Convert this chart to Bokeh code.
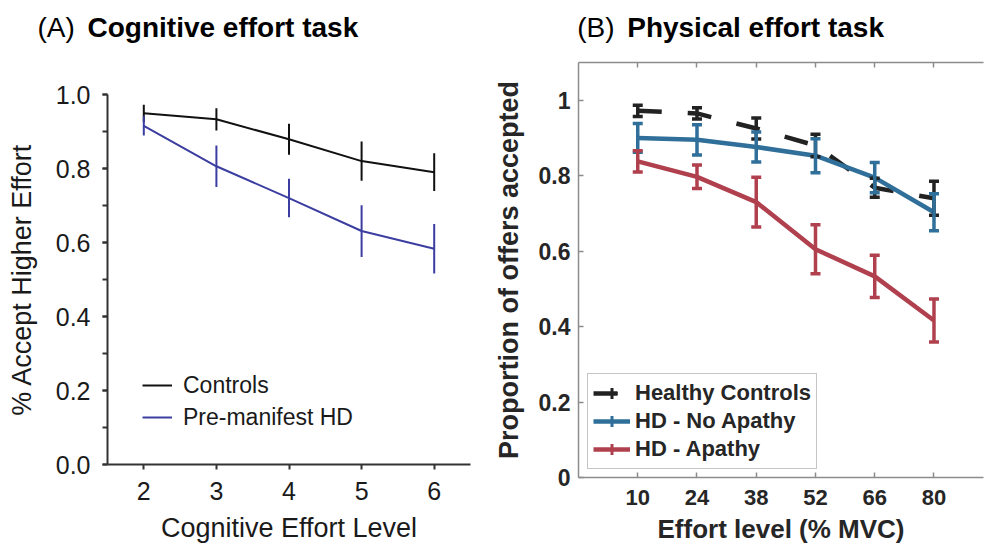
from bokeh.plotting import figure
from bokeh.layouts import row, column
from bokeh.models import (ColumnDataSource, Whisker, TeeHead, Legend, LegendItem,
                          FixedTicker, SingleIntervalTicker, LinearAxis, Range1d, PrintfTickFormatter)
from bokeh.core.properties import value
from bokeh.embed import file_html
from bokeh.resources import INLINE

# ---------------- data: panel A (cognitive effort) ----------------
cog_levels = [2, 3, 4, 5, 6]
cog_controls = [0.949, 0.933, 0.879, 0.820, 0.790]
cog_controls_err = [0.023, 0.030, 0.042, 0.053, 0.051]
cog_hd = [0.915, 0.806, 0.720, 0.631, 0.583]
cog_hd_err = [0.026, 0.056, 0.052, 0.070, 0.067]

# ---------------- data: panel B (physical effort) ----------------
phys_levels = [10, 24, 38, 52, 66, 80]
phys_controls = [0.972, 0.965, 0.925, 0.880, 0.768, 0.740]
phys_controls_err = [0.015, 0.015, 0.028, 0.030, 0.025, 0.045]
phys_noapathy = [0.900, 0.895, 0.876, 0.853, 0.795, 0.703]
phys_noapathy_err = [0.038, 0.040, 0.040, 0.045, 0.040, 0.049]
phys_apathy = [0.838, 0.797, 0.730, 0.605, 0.533, 0.416]
phys_apathy_err = [0.028, 0.031, 0.066, 0.065, 0.056, 0.057]
phys_y_ticks = [0, 0.2, 0.4, 0.6, 0.8, 1]
phys_y_tick_labels = ["0", "0.2", "0.4", "0.6", "0.8", "1"]

# ---------------- titles ----------------
title_tags = ["(A)", "(B)"]
title_names = ["Cognitive effort task", "Physical effort task"]

FONT = "Liberation Sans"
BLACK = "#111111"
BLUE_A = "#3b3ea0"
C_CTRL = "#222222"
C_NOAP = "#2f6f99"
C_AP = "#b0404e"
GREY = "#8c8c8c"
TXT_B = "#262626"

HEAD_H = 44

# ================= Header (panel titles) =================
# header coordinates are pixels measured upward from the header's bottom edge
head = figure(width=984, height=HEAD_H, x_range=Range1d(0, 984), y_range=Range1d(0, HEAD_H),
              output_backend="svg", toolbar_location=None, min_border=0,
              x_axis_location=None, y_axis_location=None, frame_align=False)
head.grid.visible = False
head.outline_line_color = None
head.background_fill_alpha = 0
head.border_fill_alpha = 0
head_top = HEAD_H - 11
head.text(x=[37, 576.7], y=[head_top, head_top], text=title_tags, text_font=value(FONT),
          text_font_size="28px", text_color="black", text_baseline="top")
head.text(x=[87, 626.7], y=[head_top, head_top], text=title_names, text_font=value(FONT),
          text_font_size="28px", text_font_style="bold", text_color="black",
          text_baseline="top")

# ================= Panel A =================
pa = figure(width=490, height=551 - HEAD_H, x_range=Range1d(1.5, 6.5), y_range=Range1d(0, 1.0),
            output_backend="svg", toolbar_location=None, frame_align=False,
            min_border_left=107, min_border_right=20, min_border_top=94 - HEAD_H,
            min_border_bottom=87)
pa.outline_line_color = None
pa.grid.visible = False

for ax in (pa.xaxis[0], pa.yaxis[0]):
    ax.axis_line_color = "#333333"
    ax.axis_line_width = 2
    ax.major_tick_line_color = "#333333"
    ax.major_tick_line_width = 2
    ax.major_tick_out = 5
    ax.major_tick_in = 0
    ax.major_label_text_font = FONT
    ax.major_label_text_font_size = "25px"
    ax.major_label_text_color = "#1a1a1a"
    ax.axis_label_text_font = FONT
    ax.axis_label_text_font_size = "27px"
    ax.axis_label_text_font_style = "normal"
    ax.axis_label_text_color = "#1a1a1a"

pa.xaxis.ticker = FixedTicker(ticks=cog_levels)
pa.xaxis.minor_tick_line_color = None
pa.xaxis.major_label_standoff = 12
pa.xaxis.axis_label = "Cognitive Effort Level"
pa.xaxis.axis_label_standoff = 10

pa.yaxis.ticker = SingleIntervalTicker(interval=0.2, num_minor_ticks=2)
pa.yaxis.formatter = PrintfTickFormatter(format="%.1f")
pa.yaxis.minor_tick_line_color = "#333333"
pa.yaxis.minor_tick_line_width = 2
pa.yaxis.minor_tick_out = 5
pa.yaxis.minor_tick_in = 0
pa.yaxis.major_label_standoff = 12
pa.yaxis.axis_label = "% Accept Higher Effort"
pa.yaxis.axis_label_standoff = 16

lo_c = [v - e for v, e in zip(cog_controls, cog_controls_err)]
hi_c = [v + e for v, e in zip(cog_controls, cog_controls_err)]
lo_h = [v - e for v, e in zip(cog_hd, cog_hd_err)]
hi_h = [v + e for v, e in zip(cog_hd, cog_hd_err)]

l_ctrl = pa.line(cog_levels, cog_controls, line_color=BLACK, line_width=2)
pa.segment(x0=cog_levels, y0=lo_c, x1=cog_levels, y1=hi_c, line_color=BLACK, line_width=2)
l_hd = pa.line(cog_levels, cog_hd, line_color=BLUE_A, line_width=2)
pa.segment(x0=cog_levels, y0=lo_h, x1=cog_levels, y1=hi_h, line_color=BLUE_A, line_width=2)

leg_a = Legend(items=[LegendItem(label="Controls", renderers=[l_ctrl]),
                      LegendItem(label="Pre-manifest HD", renderers=[l_hd])],
               location=(35, 31), padding=0, margin=0, spacing=0,
               glyph_width=30, glyph_height=32, label_height=32, label_standoff=11,
               label_text_font=FONT, label_text_font_size="23px", label_text_color="#1a1a1a",
               border_line_color=None, background_fill_alpha=0)
pa.add_layout(leg_a)

# ================= Panel B =================
pb = figure(width=494, height=551 - HEAD_H, x_range=Range1d(-4, 91.7), y_range=Range1d(0, 1.1),
            output_backend="svg", toolbar_location=None, frame_align=False,
            min_border_left=88, min_border_right=1, min_border_top=62 - HEAD_H,
            min_border_bottom=74)
pb.outline_line_color = None
pb.grid.visible = False

xb = pb.xaxis[0]
yb = pb.yaxis[0]
top_axis = LinearAxis()
pb.add_layout(top_axis, "above")

for ax in (xb, yb, top_axis):
    ax.axis_line_color = GREY
    ax.axis_line_width = 1.5
    ax.major_tick_line_color = GREY
    ax.major_tick_line_width = 1.5
    ax.major_tick_in = 5
    ax.major_tick_out = 0
    ax.minor_tick_line_color = None
    ax.major_label_text_font = FONT
    ax.major_label_text_font_style = "bold"
    ax.major_label_text_color = TXT_B
    ax.axis_label_text_font = FONT
    ax.axis_label_text_font_size = "26px"
    ax.axis_label_text_font_style = "bold"
    ax.axis_label_text_color = TXT_B

xb.ticker = FixedTicker(ticks=phys_levels)
xb.major_label_text_font_size = "22px"
xb.major_label_standoff = 12
xb.axis_label = "Effort level (% MVC)"
xb.axis_label_standoff = 6

top_axis.ticker = FixedTicker(ticks=phys_levels)
top_axis.major_label_text_font_size = "1px"
top_axis.major_label_text_color = None
top_axis.major_label_standoff = 0

yb.ticker = FixedTicker(ticks=phys_y_ticks)
yb.major_label_overrides = {t: s for t, s in zip(phys_y_ticks, phys_y_tick_labels)}
yb.major_label_text_font_size = "23px"
yb.major_label_standoff = 8
yb.axis_label = "Proportion of offers accepted"
yb.axis_label_text_font_size = "27px"
yb.axis_label_standoff = 12


def series(vals, errs, color, dash):
    src = ColumnDataSource(dict(x=phys_levels, y=vals,
                                lo=[v - e for v, e in zip(vals, errs)],
                                hi=[v + e for v, e in zip(vals, errs)]))
    ln = pb.line("x", "y", source=src, line_color=color, line_width=4.5, line_dash=dash)
    wk = Whisker(source=src, base="x", upper="hi", lower="lo", level="glyph",
                 line_color=color, line_width=3.5,
                 upper_head=TeeHead(size=10, line_color=color, line_width=3.5),
                 lower_head=TeeHead(size=10, line_color=color, line_width=3.5))
    pb.add_layout(wk)
    mk = pb.scatter("x", "y", source=src, marker="cross", size=0.1,
                    line_color=color, line_width=3)
    return ln, mk


ln_c, mk_c = series(phys_controls, phys_controls_err, C_CTRL, "24 26")
ln_n, mk_n = series(phys_noapathy, phys_noapathy_err, C_NOAP, "solid")
ln_a, mk_a = series(phys_apathy, phys_apathy_err, C_AP, "solid")

leg_b = Legend(items=[LegendItem(label="Healthy Controls", renderers=[ln_c, mk_c]),
                      LegendItem(label="HD - No Apathy", renderers=[ln_n, mk_n]),
                      LegendItem(label="HD - Apathy", renderers=[ln_a, mk_a])],
               location=(9, 8), padding=5, margin=0, spacing=0,
               glyph_width=37, glyph_height=28, label_height=28, label_standoff=5,
               label_text_font=FONT, label_text_font_size="22px", label_text_font_style="bold",
               label_text_color=TXT_B,
               border_line_color=GREY, border_line_width=1.5, background_fill_color="white")
pb.add_layout(leg_b)

layout = column(head, row(pa, pb, spacing=0), spacing=0)
open("out.html", "w").write(file_html(layout, INLINE))
